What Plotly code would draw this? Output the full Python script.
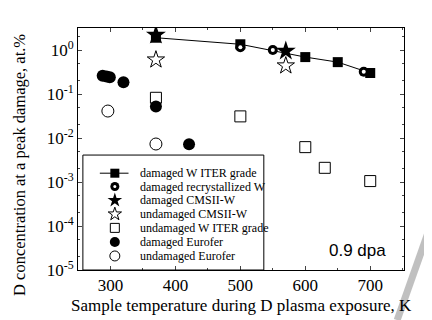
import plotly.graph_objects as go

# Data
itr_dmg_x = [370, 500, 600, 650, 700]
itr_dmg_y = [1.9, 1.35, 0.69, 0.53, 0.30]
recr_x = [500, 550, 690]
recr_y = [1.15, 1.0, 0.32]
cms_dmg_x = [370, 570]
cms_dmg_y = [2.2, 0.95]
cms_und_x = [370, 570]
cms_und_y = [0.60, 0.44]
itr_und_x = [370, 500, 600, 630, 700]
itr_und_y = [0.082, 0.031, 0.0062, 0.0021, 0.00105]
euro_dmg_x = [288, 294, 299, 320, 370, 421]
euro_dmg_y = [0.26, 0.25, 0.24, 0.185, 0.052, 0.0072]
euro_und_x = [296, 370]
euro_und_y = [0.041, 0.0073]

legend_names = ["damaged W ITER grade", "damaged recrystallized W", "damaged CMSII-W",
                "undamaged CMSII-W", "undamaged W ITER grade", "damaged Eurofer",
                "undamaged Eurofer"]

xtickvals = [300, 400, 500, 600, 700]
xticklabels = ["300", "400", "500", "600", "700"]
ytickvals = [1e-5, 1e-4, 1e-3, 1e-2, 1e-1, 1]
yticklabels = ["10<sup>-5</sup>", "10<sup>-4</sup>", "10<sup>-3</sup>",
               "10<sup>-2</sup>", "10<sup>-1</sup>", "10<sup>0</sup>"]

SERIF = "Liberation Serif"


def serif_span(t):
    return '<span style="font-family:Liberation Serif">' + t + "</span>"


fig = go.Figure()

styles = [
    dict(symbol="square", size=10, color="black"),
    dict(symbol="circle", size=10, color="black"),
    dict(symbol="star", size=15, color="black"),
    dict(symbol="star-open", size=13, color="black", line=dict(width=1, color="black")),
    dict(symbol="square-open", size=11, color="black", line=dict(width=1, color="black")),
    dict(symbol="circle", size=12, color="black"),
    dict(symbol="circle-open", size=12, color="black", line=dict(width=1, color="black")),
]
legend_marker_sizes = [9, 9, 11, 10, 9, 10, 10]

fig.add_trace(go.Scatter(x=itr_dmg_x, y=itr_dmg_y, mode="lines+markers",
                         line=dict(color="black", width=1), marker=styles[0]))
fig.add_trace(go.Scatter(x=recr_x, y=recr_y, mode="markers", marker=styles[1]))
fig.add_trace(go.Scatter(x=recr_x, y=recr_y, mode="markers", hoverinfo="skip",
                         marker=dict(symbol="circle", size=4, color="white")))
fig.add_trace(go.Scatter(x=cms_dmg_x, y=cms_dmg_y, mode="markers", marker=styles[2]))
fig.add_trace(go.Scatter(x=cms_und_x, y=cms_und_y, mode="markers", marker=styles[3]))
fig.add_trace(go.Scatter(x=itr_und_x, y=itr_und_y, mode="markers", marker=styles[4]))
fig.add_trace(go.Scatter(x=euro_dmg_x, y=euro_dmg_y, mode="markers", marker=styles[5]))
fig.add_trace(go.Scatter(x=euro_und_x, y=euro_und_y, mode="markers", marker=styles[6]))

# Manual legend on an overlay unit axis
row_y = [0.400, 0.345, 0.288, 0.231, 0.174, 0.116, 0.058]
mx = 0.113
fig.add_trace(go.Scatter(x=[0.067, 0.155], y=[row_y[0], row_y[0]], mode="lines",
                         xaxis="x2", yaxis="y2", line=dict(color="black", width=1),
                         hoverinfo="skip"))
for i, st in enumerate(styles):
    m = dict(st)
    m["size"] = legend_marker_sizes[i]
    fig.add_trace(go.Scatter(x=[mx], y=[row_y[i]], mode="markers", xaxis="x2",
                             yaxis="y2", marker=m, hoverinfo="skip"))
fig.add_trace(go.Scatter(x=[mx], y=[row_y[1]], mode="markers", xaxis="x2", yaxis="y2",
                         marker=dict(symbol="circle", size=3, color="white"),
                         hoverinfo="skip"))

annotations = []
for i, name in enumerate(legend_names):
    annotations.append(dict(text=name, x=0.184, y=row_y[i], xref="paper", yref="paper",
                            xanchor="left", yanchor="middle", showarrow=False,
                            font=dict(family=SERIF, size=12, color="black")))
annotations.append(dict(text="0.9 dpa", x=0.952, y=0.08, xref="paper", yref="paper",
                        xanchor="right", yanchor="middle", showarrow=False,
                        font=dict(family="Liberation Sans", size=17, color="black")))
annotations.append(dict(text="Sample temperature during D plasma exposure, K",
                        x=0.5, y=-0.145, xref="paper", yref="paper",
                        xanchor="center", yanchor="middle", showarrow=False,
                        font=dict(family=SERIF, size=17, color="black")))
annotations.append(dict(text="D concentration at a peak damage, at.%",
                        x=-0.178, y=0.434, xref="paper", yref="paper", textangle=-90,
                        xanchor="center", yanchor="middle", showarrow=False,
                        font=dict(family=SERIF, size=16.5, color="black")))

# page body has an 8px margin; figure is sized/offset to compensate
fig.update_layout(
    width=424, height=312,
    margin=dict(l=70, r=28, t=20, b=50, autoexpand=False),
    paper_bgcolor="white", plot_bgcolor="white",
    font=dict(family=SERIF, color="black", size=17),
    showlegend=False,
    annotations=annotations,
    shapes=[
        dict(type="rect", xref="paper", yref="paper", x0=0.015, y0=0.0, x1=0.57,
             y1=0.475, line=dict(color="black", width=1), fillcolor="rgba(0,0,0,0)"),
        dict(type="line", xref="paper", yref="paper",
             x0=0.979, y0=-0.207, x1=1.08, y1=0.178,
             line=dict(color="rgba(150,150,150,0.6)", width=7)),
    ],
    xaxis=dict(range=[250, 752], tickvals=xtickvals,
               ticktext=[serif_span(t) for t in xticklabels],
               ticks="inside", ticklen=4, mirror="allticks", showline=True,
               linecolor="black", linewidth=1, showgrid=False, zeroline=False,
               minor=dict(tickvals=[250, 350, 450, 550, 650, 750], ticks="inside",
                          ticklen=2, showgrid=False),
               tickfont=dict(family=SERIF, size=17, color="black")),
    yaxis=dict(type="log", range=[-5, 0.5], tickvals=ytickvals,
               ticktext=[serif_span(t) for t in yticklabels], ticks="inside", ticklen=4,
               mirror="allticks", showline=True, linecolor="black",
               linewidth=1, showgrid=False, zeroline=False,
               minor=dict(ticks="inside", ticklen=2, showgrid=False),
               tickfont=dict(family=SERIF, size=17, color="black")),
    xaxis2=dict(overlaying="x", range=[0, 1], visible=False, fixedrange=True),
    yaxis2=dict(overlaying="y", range=[0, 1], visible=False, fixedrange=True),
)

fig.write_html("out.html")
